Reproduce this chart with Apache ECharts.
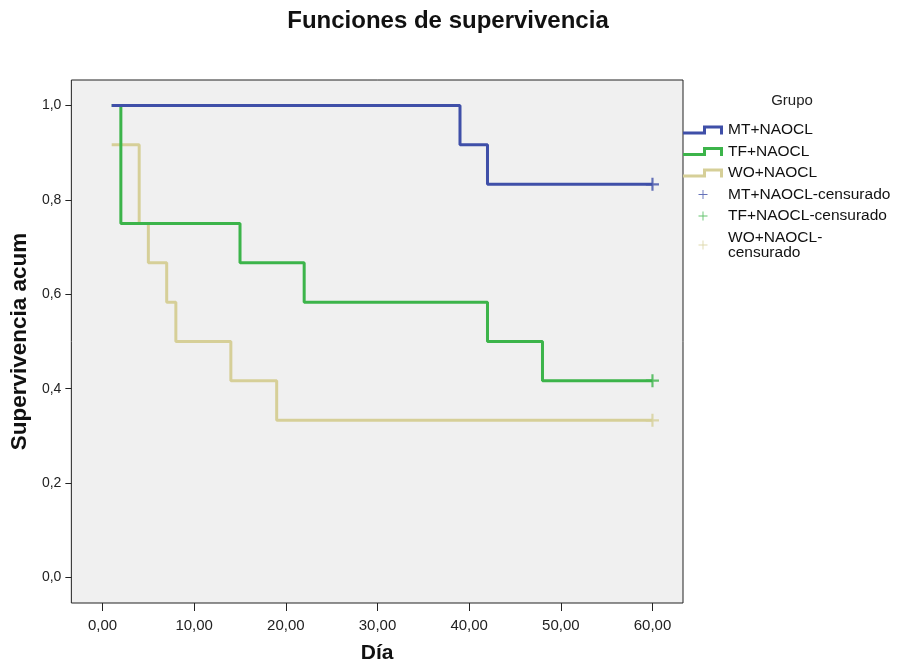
<!DOCTYPE html>
<html>
<head>
<meta charset="utf-8">
<script src="https://cdn.jsdelivr.net/npm/echarts@6/dist/echarts.min.js"></script>
<style>html,body{margin:0;padding:0;background:#fff;overflow:hidden}#c{width:902px;height:669px}</style>
</head>
<body>
<div id="c"></div>
<script>
const groups = ['MT+NAOCL', 'TF+NAOCL', 'WO+NAOCL'];
const censoredNames = ['MT+NAOCL-censurado', 'TF+NAOCL-censurado', 'WO+NAOCL-\ncensurado'];
const mtSteps = [[1, 1.0], [39, 0.917], [42, 0.833], [60, 0.833]];
const tfSteps = [[1, 1.0], [2, 0.75], [15, 0.667], [22, 0.583], [42, 0.5], [48, 0.417], [60, 0.417]];
const woSteps = [[1, 0.917], [4, 0.75], [5, 0.667], [7, 0.583], [8, 0.5], [14, 0.417], [19, 0.333], [60, 0.333]];
const mtCensored = [[60, 0.833]];
const tfCensored = [[60, 0.417]];
const woCensored = [[60, 0.333]];
const xTicks = [0, 10, 20, 30, 40, 50, 60];
const yTicks = [0, 0.2, 0.4, 0.6, 0.8, 1.0];

const colors = ['#3f4fa8', '#3cb44a', '#d6cf98'];
const FONT = '"Liberation Sans", Arial, sans-serif';
const stepIcon = 'path://M0,6H20V0H40V9H37V3H23V9H0Z';
const plusIcon = 'path://M5.4,0H6.6V5.4H12V6.6H6.6V12H5.4V6.6H0V5.4H5.4Z';
const plusSymbol = 'path://M5,0H7V5H12V7H7V12H5V7H0V5H5Z';

const stepData = [mtSteps, tfSteps, woSteps];
const censData = [mtCensored, tfCensored, woCensored];

const series = [];
groups.forEach((g, i) => {
  series.push({
    name: g, type: 'line', step: 'end', data: stepData[i],
    showSymbol: false, symbol: 'none', clip: false,
    lineStyle: { color: colors[i], width: 3 },
    itemStyle: { color: colors[i] },
    z: 3 - i
  });
});
censoredNames.forEach((n, i) => {
  series.push({
    name: n, type: 'scatter', data: censData[i], symbol: plusSymbol,
    symbolSize: 13, clip: false,
    itemStyle: { color: colors[i] }, z: 5
  });
});

const legendData = groups.map(g => ({ name: g, icon: stepIcon }))
  .concat(censoredNames.map(n => ({ name: n, icon: plusIcon })));

const chart = echarts.init(document.getElementById('c'), null, { renderer: 'canvas', width: 902, height: 669 });
chart.setOption({
  animation: false,
  backgroundColor: '#ffffff',
  title: [
    { text: 'Funciones de supervivencia', left: 448, top: 9, padding: 0, textAlign: 'center',
      textStyle: { fontFamily: FONT, fontSize: 24, fontWeight: 'bold', color: '#111' } },
    { text: 'Grupo', left: 792, top: 93, padding: 0, textAlign: 'center',
      textStyle: { fontFamily: FONT, fontSize: 15, fontWeight: 'normal', color: '#222' } }
  ],
  legend: {
    orient: 'vertical', left: 683, top: 122, padding: 0, itemWidth: 40, itemHeight: 9, itemGap: 5.5,
    symbolKeepAspect: true, selectedMode: false,
    itemStyle: { borderWidth: 0 },
    textStyle: { fontFamily: FONT, fontSize: 15.5, color: '#111', lineHeight: 15 },
    data: legendData
  },
  grid: {
    left: 68, top: 80, width: 615, height: 530, show: true,
    backgroundColor: '#f0f0f0', borderColor: '#222', borderWidth: 1
  },
  xAxis: {
    type: 'value', min: -3.4, max: 63.33,
    name: 'Día', nameLocation: 'middle', nameGap: 40,
    nameTextStyle: { fontFamily: FONT, fontSize: 21, fontWeight: 'bold', color: '#111', verticalAlign: 'top' },
    axisLine: { show: false, onZero: false },
    axisTick: { show: true, length: 8, customValues: xTicks, lineStyle: { color: '#222' } },
    axisLabel: { customValues: xTicks, margin: 15, fontFamily: FONT, fontSize: 15, color: '#222',
      formatter: v => v.toFixed(2).replace('.', ',') },
    splitLine: { show: false }
  },
  yAxis: {
    type: 'value', min: -0.054, max: 1.054,
    name: 'Supervivencia acum', nameLocation: 'middle', nameGap: 36, nameRotate: 90,
    nameTextStyle: { fontFamily: FONT, fontSize: 22.5, fontWeight: 'bold', color: '#111' },
    axisLine: { show: false, onZero: false },
    axisTick: { show: true, length: 6, customValues: yTicks, lineStyle: { color: '#222' } },
    axisLabel: { customValues: yTicks, margin: 10, fontFamily: FONT, fontSize: 14, color: '#222',
      formatter: v => v.toFixed(1).replace('.', ',') },
    splitLine: { show: false }
  },
  series: series
});
</script>
</body>
</html>
